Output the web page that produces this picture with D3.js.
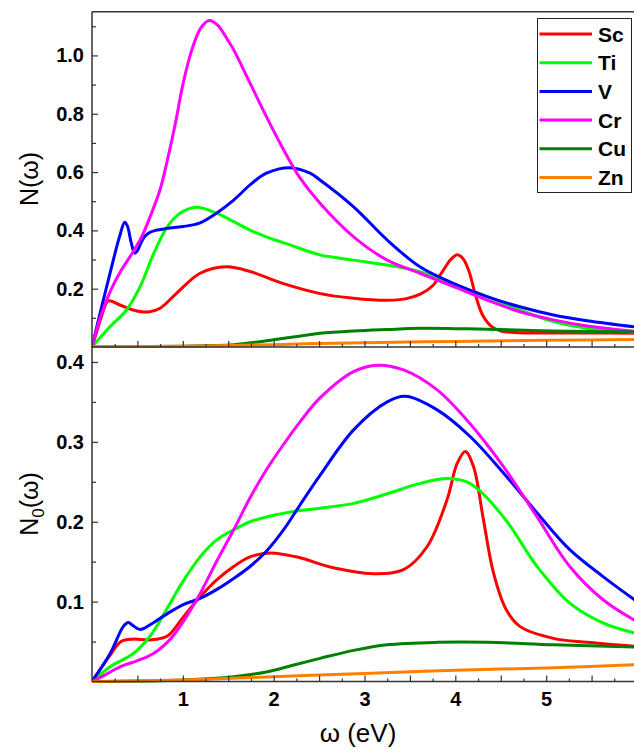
<!DOCTYPE html>
<html><head><meta charset="utf-8">
<script src="https://cdn.jsdelivr.net/npm/d3@7"></script>
<style>body{margin:0;background:#fff}svg{display:block}text{font-family:Arial,"Liberation Sans",sans-serif}</style>
</head><body><svg id="c" width="634" height="752"></svg>
<script>
// ---- data ----
const elements = ["Sc","Ti","V","Cr","Cu","Zn"];
const colors = ["#ff0000","#00ff00","#0000ff","#ff00ff","#008000","#ff8000"];
const xTickLabels = [1,2,3,4,5];
const topYTickLabels = [0.2,0.4,0.6,0.8,1.0];
const botYTickLabels = [0.1,0.2,0.3,0.4];

// N(ω) — top panel
const scN = [[0,0],[0.05,0.05],[0.1,0.1],[0.18,0.158],[0.3,0.145],[0.45,0.127],[0.62,0.12],[0.75,0.133],[0.93,0.184],[1.19,0.253],[1.48,0.275],[1.74,0.259],[2.1,0.218],[2.5,0.184],[2.88,0.167],[3.25,0.16],[3.45,0.165],[3.62,0.182],[3.75,0.21],[3.85,0.255],[3.95,0.3],[4.02,0.316],[4.08,0.305],[4.15,0.26],[4.22,0.18],[4.3,0.11],[4.4,0.07],[4.5,0.055],[4.7,0.049],[5.5,0.048],[6,0.047]];
const tiN = [[0,0],[0.2,0.07],[0.38,0.127],[0.53,0.207],[0.68,0.321],[0.83,0.413],[0.97,0.459],[1.15,0.479],[1.37,0.459],[1.56,0.43],[1.74,0.401],[1.92,0.378],[2.18,0.35],[2.51,0.316],[2.88,0.298],[3.25,0.281],[3.61,0.258],[3.98,0.213],[4.35,0.173],[4.71,0.127],[5.08,0.087],[5.45,0.064],[6,0.05]];
const vN = [[0,0],[0.1,0.13],[0.2,0.255],[0.3,0.375],[0.36,0.428],[0.39,0.415],[0.43,0.36],[0.47,0.322],[0.5,0.33],[0.56,0.37],[0.62,0.39],[0.7,0.4],[0.83,0.407],[1.0,0.413],[1.19,0.426],[1.37,0.459],[1.56,0.504],[1.74,0.556],[1.92,0.596],[2.18,0.615],[2.4,0.596],[2.51,0.573],[2.88,0.481],[3.25,0.367],[3.61,0.275],[3.98,0.218],[4.35,0.173],[4.71,0.138],[5.08,0.11],[5.45,0.09],[6,0.068]];
const crN = [[0,0],[0.1,0.11],[0.2,0.19],[0.32,0.262],[0.45,0.325],[0.55,0.38],[0.64,0.447],[0.75,0.54],[0.83,0.641],[0.92,0.77],[1.0,0.9],[1.1,1.02],[1.2,1.095],[1.29,1.12],[1.38,1.105],[1.5,1.05],[1.56,1.019],[1.74,0.905],[1.92,0.79],[2.11,0.676],[2.29,0.58],[2.51,0.493],[2.88,0.378],[3.25,0.298],[3.61,0.253],[3.98,0.207],[4.35,0.161],[4.71,0.121],[5.08,0.093],[5.45,0.072],[6,0.053]];
const cuN = [[0,0],[0.5,0.001],[1.0,0.003],[1.3,0.005],[1.56,0.008],[1.8,0.016],[2.0,0.025],[2.3,0.038],[2.51,0.047],[2.88,0.055],[3.25,0.06],[3.61,0.064],[4.0,0.063],[4.35,0.061],[5.08,0.055],[6,0.051]];
const znN = [[0,0],[1,0.003],[2,0.008],[2.5,0.012],[3,0.015],[4,0.019],[5,0.023],[6,0.026]];

// N0(ω) — bottom panel
const scN0 = [[0,0],[0.2,0.033],[0.32,0.05],[0.45,0.053],[0.64,0.052],[0.83,0.057],[1.0,0.08],[1.19,0.106],[1.37,0.127],[1.56,0.144],[1.74,0.156],[1.96,0.161],[2.29,0.155],[2.6,0.144],[3.1,0.135],[3.43,0.14],[3.69,0.169],[3.91,0.228],[4.02,0.273],[4.11,0.288],[4.2,0.269],[4.31,0.202],[4.42,0.136],[4.56,0.09],[4.71,0.069],[5.08,0.054],[5.45,0.049],[6,0.044]];
const tiN0 = [[0,0],[0.2,0.0185],[0.455,0.035],[0.64,0.057],[0.83,0.092],[1.0,0.125],[1.19,0.156],[1.37,0.177],[1.56,0.19],[1.74,0.2],[1.92,0.206],[2.29,0.214],[2.51,0.217],[2.88,0.223],[3.25,0.235],[3.61,0.248],[3.92,0.254],[4.16,0.248],[4.53,0.206],[4.9,0.144],[5.26,0.098],[5.63,0.073],[6,0.06]];
const vN0 = [[0,0],[0.2,0.035],[0.345,0.069],[0.4,0.074],[0.45,0.07],[0.53,0.065],[0.64,0.071],[0.83,0.085],[1.0,0.096],[1.19,0.104],[1.37,0.115],[1.56,0.129],[1.74,0.144],[1.92,0.163],[2.11,0.19],[2.29,0.221],[2.51,0.258],[2.88,0.315],[3.25,0.35],[3.45,0.357],[3.8,0.34],[4.16,0.307],[4.53,0.261],[4.9,0.211],[5.26,0.165],[5.63,0.131],[6,0.1]];
const crN0 = [[0,0],[0.14,0.008],[0.32,0.019],[0.5,0.026],[0.69,0.036],[0.87,0.054],[1.0,0.074],[1.19,0.11],[1.37,0.15],[1.56,0.19],[1.74,0.23],[1.92,0.265],[2.11,0.297],[2.29,0.325],[2.51,0.355],[2.88,0.388],[3.15,0.396],[3.43,0.39],[3.8,0.365],[4.16,0.323],[4.53,0.269],[4.9,0.206],[5.26,0.144],[5.63,0.102],[6,0.075]];
const cuN0 = [[0,0],[1.0,0.002],[1.56,0.006],[1.92,0.012],[2.2,0.02],[2.51,0.029],[2.88,0.039],[3.25,0.046],[3.8,0.049],[4.35,0.049],[5.08,0.046],[6,0.043]];
const znN0 = [[0,0],[1,0.002],[2,0.006],[2.5,0.008],[3,0.01],[4,0.014],[5,0.017],[6,0.021]];

const topSeries = [scN,tiN,vN,crN,cuN,znN];
const botSeries = [scN0,tiN0,vN0,crN0,cuN0,znN0];

// ---- layout ----
const svg = d3.select("#c");
const x = d3.scaleLinear().domain([0,6]).range([92,637]);
const yTop = d3.scaleLinear().domain([0,1.15]).range([347,11.7]);
const yBot = d3.scaleLinear().domain([0,0.42]).range([681.5,346]);
const axisColor = "#333";

const defs = svg.append("defs");
defs.append("clipPath").attr("id","cTop").append("rect").attr("x",92).attr("y",11).attr("width",545).attr("height",337);
defs.append("clipPath").attr("id","cBot").append("rect").attr("x",92).attr("y",347).attr("width",545).attr("height",336);

function drawPanel(y, series, clip, yTicksMajor, yMinorStep, showXLabels, fmt){
  const g = svg.append("g");
  const line = d3.line().x(d=>x(d[0])).y(d=>y(d[1])).curve(d3.curveCatmullRom.alpha(0.5));
  const cg = g.append("g").attr("clip-path",`url(#${clip})`);
  series.forEach((s,i)=>{
    cg.append("path").datum(s).attr("d",line).attr("fill","none")
      .attr("stroke",colors[i]).attr("stroke-width",3).attr("stroke-linejoin","round");
  });
  // x axis (bottom), ticks inward
  const xMinor = d3.range(0.25,6,0.25).filter(v=>Math.abs(v*2-Math.round(v*2))>1e-6);
  const xMajor = d3.range(0.5,6,0.5);
  const ax = d3.axisBottom(x).tickValues(xMajor).tickSize(-6).tickFormat(d=> (showXLabels && Number.isInteger(d) && xTickLabels.includes(d)) ? d : "");
  const xg = g.append("g").attr("transform",`translate(0,${y.range()[0]})`).call(ax);
  const axm = d3.axisBottom(x).tickValues(xMinor).tickSize(-3).tickFormat("");
  const xgm = g.append("g").attr("transform",`translate(0,${y.range()[0]})`).call(axm);
  [xg,xgm].forEach(a=>{a.select(".domain").remove(); a.selectAll("line").attr("stroke",axisColor).attr("stroke-width",1.2);});
  xg.selectAll("text").attr("font-size",20).attr("font-weight","bold").attr("fill","#000").attr("dy",0).attr("y",24);
  // y axis
  const ay = d3.axisLeft(y).tickValues(yTicksMajor).tickSize(-6).tickPadding(8).tickFormat(fmt);
  const yg = g.append("g").attr("transform",`translate(${x(0)},0)`).call(ay);
  const yMin = d3.range(yMinorStep, y.domain()[1], yMinorStep*2);
  const aym = d3.axisLeft(y).tickValues(yMin).tickSize(-4).tickFormat("");
  const ygm = g.append("g").attr("transform",`translate(${x(0)},0)`).call(aym);
  [yg,ygm].forEach(a=>{a.select(".domain").remove(); a.selectAll("line").attr("stroke",axisColor).attr("stroke-width",1.2);});
  yg.selectAll("text").attr("font-size",20).attr("font-weight","bold").attr("fill","#000").attr("x",-8);
  // axis lines
  g.append("line").attr("x1",x(0)).attr("x2",634).attr("y1",y.range()[0]).attr("y2",y.range()[0]).attr("stroke",axisColor).attr("stroke-width",1.5);
  g.append("line").attr("x1",x(0)).attr("x2",x(0)).attr("y1",y.range()[0]).attr("y2",y.range()[1]).attr("stroke",axisColor).attr("stroke-width",1.5);
}

drawPanel(yTop, topSeries, "cTop", topYTickLabels, 0.1, false, d3.format(".1f"));
drawPanel(yBot, botSeries, "cBot", botYTickLabels, 0.05, true, d3.format(".1f"));
// top frame line
svg.append("line").attr("x1",x(0)).attr("x2",634).attr("y1",11.7).attr("y2",11.7).attr("stroke",axisColor).attr("stroke-width",1.5);

// axis titles
svg.append("text").attr("transform","translate(38,179) rotate(-90)").attr("text-anchor","middle")
  .attr("font-size",25).text("N(ω)");
const t2 = svg.append("text").attr("transform","translate(38,504) rotate(-90)").attr("text-anchor","middle").attr("font-size",25);
t2.append("tspan").text("N");
t2.append("tspan").attr("font-size",17).attr("dy",6).text("0");
t2.append("tspan").attr("dy",-6).text("(ω)");
svg.append("text").attr("x",358).attr("y",742).attr("text-anchor","middle").attr("font-size",26).text("ω (eV)");

// legend
const lg = svg.append("g");
lg.append("rect").attr("x",537.5).attr("y",18.5).attr("width",94).attr("height",174).attr("fill","#fff").attr("stroke","#222").attr("stroke-width",1);
elements.forEach((e,i)=>{
  const yy = 34 + i*28.7;
  lg.append("line").attr("x1",539.5).attr("x2",592).attr("y1",yy).attr("y2",yy).attr("stroke",colors[i]).attr("stroke-width",3);
  lg.append("text").attr("x",598).attr("y",yy).attr("dy","0.36em").attr("font-size",21).attr("font-weight","bold").text(e);
});
</script></body></html>
